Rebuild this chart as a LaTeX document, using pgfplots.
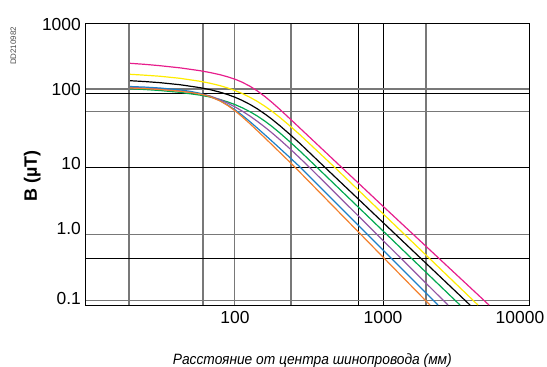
\documentclass[border=0pt]{standalone}
\usepackage{fontspec}
\setmainfont{Liberation Sans}
\usepackage{graphicx}
\usepackage{pgfplots}
\pgfplotsset{compat=1.18}

\definecolor{cmag}{RGB}{231,30,140}
\definecolor{cyel}{RGB}{255,236,0}
\definecolor{cgrn}{RGB}{0,168,80}
\definecolor{cpur}{RGB}{146,84,164}
\definecolor{cblu}{RGB}{28,128,200}
\definecolor{cora}{RGB}{243,128,44}
\definecolor{cgrid}{RGB}{120,120,120}

\begin{document}
\begin{tikzpicture}
\begin{axis}[
  at={(85bp,62bp)}, anchor=south west,
  width=444bp, height=281bp, scale only axis,
  xmode=log, ymode=log,
  xmin=10, xmax=10000, ymin=0.0802, ymax=1000,
  axis line style={black, line width=1bp},
  xtick={19.83,62.7,102.3,246.6,2014},
  xticklabels={},
  minor xtick={710,1031.6},
  ytick={112.8,53.0,0.854,0.0932},
  yticklabels={},
  minor ytick={95.5,8.23,0.388},
  grid=both,
  major grid style={draw=cgrid, line width=1.6bp},
  minor grid style={draw=black, line width=1.0bp},
  major tick length=0pt, minor tick length=0pt,
  extra x ticks={103.2,1031.6,8690},
  extra x tick labels={100,1000,10000},
  extra y ticks={1000,112.8,9.415,1.062,0.1013},
  extra y tick labels={1000,100,10,1.0,0.1},
  extra tick style={grid=none, major tick length=0pt},
  xticklabel style={font=\fontsize{17.5}{20}\selectfont, anchor=north, inner sep=0pt, yshift=-6bp},
  yticklabel style={font=\fontsize{17.5}{20}\selectfont, anchor=east, inner sep=0pt, xshift=-4bp},
  every axis y label/.style={at={(rel axis cs:-0.119,0.459)}, rotate=90, anchor=center, font=\fontsize{18}{20}\selectfont\bfseries},
  ylabel={B (µT)},
  every axis x label/.style={at={(rel axis cs:0.512,-0.1975)}, anchor=center},
  xlabel={\resizebox{279bp}{\height}{\fontsize{15}{17}\selectfont\itshape Расстояние от центра шинопровода (мм)}},
  every axis plot/.append style={line width=1.2bp, line join=round},
]
% magenta
\addplot[color=cmag] coordinates {(20.14,267.4) (25.43,258.1) (32.12,246.7) (43.84,229.5) (59.84,208.6) (69.91,196.3) (81.69,182.4) (92.52,169.3) (103.16,156.8) (115.04,142.2) (130.3,123.6) (145.3,106.6) (164.5,87.44) (183.5,71.94) (207.8,56.70) (242.8,41.50) (542.6,8.120) (984.5,2.426) (5367,0.0801)};
% yellow
\addplot[color=cyel] coordinates {(20.14,184.9) (25.43,179.4) (32.12,173.2) (43.84,161.6) (59.84,146.3) (69.91,137.1) (81.69,126.3) (92.52,116.5) (103.16,107.3) (115.04,97.34) (130.3,85.41) (145.3,74.90) (164.5,63.14) (183.5,53.38) (207.8,43.36) (242.8,32.60) (283.6,24.26) (476.1,8.511) (4522,0.0801)};
% black
\addplot[color=black] coordinates {(20.14,149.1) (25.43,144.9) (32.12,139.6) (43.84,130.3) (59.84,118.1) (69.91,110.6) (81.69,101.5) (92.52,93.35) (103.16,85.55) (115.04,77.21) (130.3,67.18) (145.3,58.44) (164.5,48.68) (183.5,40.81) (207.8,32.81) (242.8,24.50) (283.6,18.11) (407.6,8.567) (3993,0.0801)};
% green
\addplot[color=cgrn] coordinates {(20.14,114.0) (25.43,111.0) (32.12,107.3) (43.84,100.8) (59.84,91.94) (69.91,86.27) (81.69,79.32) (92.52,72.95) (103.16,66.86) (115.04,60.33) (130.3,52.67) (145.3,45.83) (164.5,38.30) (183.5,32.05) (207.8,25.68) (242.8,19.11) (283.6,14.04) (362.6,8.455) (3418,0.0801)};
% purple
\addplot[color=cpur] coordinates {(20.14,119.5) (25.43,116.7) (32.12,112.8) (43.84,105.9) (59.84,96.38) (69.91,89.22) (81.69,79.05) (92.52,69.94) (103.16,61.87) (115.04,54.01) (130.3,45.44) (145.3,38.42) (164.5,31.31) (183.5,25.85) (207.8,20.51) (242.8,15.16) (283.6,11.06) (318.7,8.683) (2836,0.0801)};
% blue
\addplot[color=cblu] coordinates {(20.14,122.7) (25.43,120.3) (32.12,116.7) (43.84,109.5) (51.22,104.5) (59.84,97.68) (69.91,88.17) (81.69,76.19) (92.52,65.62) (103.16,56.15) (115.04,46.99) (130.3,37.66) (145.3,30.68) (164.5,24.18) (183.5,19.57) (207.8,15.31) (242.8,11.25) (279.2,8.511) (2428,0.0801)};
% orange
\addplot[color=cora] coordinates {(20.14,116.7) (25.43,114.4) (32.12,111.0) (43.84,104.8) (51.22,100.8) (59.84,95.41) (64.69,91.80) (69.91,87.44) (81.69,75.68) (92.52,64.53) (103.16,54.28) (115.04,44.68) (130.3,35.10) (145.3,28.12) (164.5,21.79) (183.5,17.34) (207.8,13.35) (255.6,8.656) (2143,0.0801)};
\end{axis}
\node[rotate=90, text=black!70] at (13.5bp,321bp) {\resizebox{38bp}{\height}{\fontsize{8}{9}\selectfont DD210982}};
\pgfresetboundingbox
\path (0,0) rectangle (547bp,367bp);
\end{tikzpicture}
\end{document}
